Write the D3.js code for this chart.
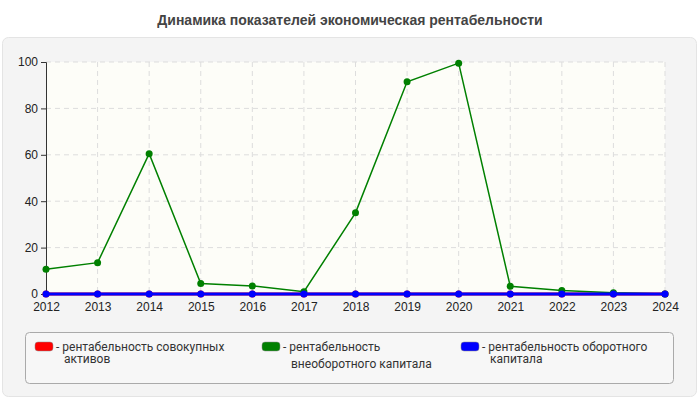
<!DOCTYPE html><html><head><meta charset="utf-8"><script src="https://cdn.jsdelivr.net/npm/d3@7"></script>
<style>body{margin:0;background:#fff;font-family:Arial,"Liberation Sans",sans-serif}</style></head><body><svg id="c" width="700" height="400"></svg>
<script>
const years=["2012","2013","2014","2015","2016","2017","2018","2019","2020","2021","2022","2023","2024"];
const totalAssets=[0,0,0,0,0,0,0,0,0,0,0,0,0];
const nonCurrent=[10.7,13.5,60.5,4.5,3.5,1,35,91.5,99.5,3.3,1.5,0.5,0];
const current=[0,0,0,0,0,0,0,0,0,0,0,0,0];
const yTicks=[0,20,40,60,80,100];
const legendLabels=[["рентабельность совокупных","активов"],["рентабельность","внеоборотного капитала"],["рентабельность оборотного","капитала"]];
const colors=["#ff0000","#008000","#0000ff"];
const svg=d3.select("#c");
svg.append("text").attr("x",350).attr("y",25).attr("text-anchor","middle").attr("font-size",14).attr("font-weight","bold").attr("fill","#444").text("Динамика показателей экономическая рентабельности");
svg.append("rect").attr("x",2.5).attr("y",37.5).attr("width",694).attr("height",359).attr("rx",6).attr("fill","#f4f4f4").attr("stroke","#e4e4e4");
const x=d3.scalePoint().domain(years).range([46,665]);
const y=d3.scaleLinear().domain([0,100]).range([294,62]);
svg.append("rect").attr("x",46).attr("y",62).attr("width",619).attr("height",232).attr("fill","#fdfdf8");
const g=svg.append("g");
g.selectAll(".gy").data(yTicks.slice(1)).join("line").attr("x1",46).attr("x2",665).attr("y1",d=>y(d)).attr("y2",d=>y(d)).attr("stroke","#ddd").attr("stroke-dasharray","5,4");
g.selectAll(".gx").data(years.slice(1)).join("line").attr("x1",d=>x(d)).attr("x2",d=>x(d)).attr("y1",62).attr("y2",294).attr("stroke","#ddd").attr("stroke-dasharray","5,4");
const ya=svg.append("g").attr("transform","translate(46,0)").call(d3.axisLeft(y).tickValues(yTicks).tickSize(5));
const xa=svg.append("g").attr("transform","translate(0,294)").call(d3.axisBottom(x).tickSize(0).tickPadding(8));
[ya,xa].forEach(a=>{a.selectAll("text").attr("font-size",12).attr("fill","#222").attr("font-family","Arial,Liberation Sans");a.selectAll("line").attr("stroke","#333");a.select(".domain").attr("stroke","#333");});
xa.select(".domain").remove();
const line=d3.line().x((d,i)=>x(years[i])).y(d=>y(d));
[totalAssets,nonCurrent,current].forEach((s,k)=>{
 svg.append("path").attr("d",line(s)).attr("fill","none").attr("stroke",colors[k]).attr("stroke-width",k==1?1.5:3);
 svg.selectAll(null).data(s).join("circle").attr("cx",(d,i)=>x(years[i])).attr("cy",d=>y(d)).attr("r",3.5).attr("fill",colors[k]);
});
svg.append("rect").attr("x",25.5).attr("y",332.5).attr("width",648).attr("height",51).attr("rx",4).attr("fill","#f7f7f7").attr("stroke","#aaa");
const lx=[35,262,461];
legendLabels.forEach((l,k)=>{
 svg.append("rect").attr("x",lx[k]).attr("y",342).attr("width",18).attr("height",9).attr("rx",3).attr("fill",colors[k]).attr("stroke","#888").attr("stroke-width",0.5);
 const t=svg.append("text").attr("x",lx[k]+21).attr("y",351).attr("font-size",12).attr("fill","#333").attr("font-family","Roboto,Arial");
 t.append("tspan").text("- "+l[0]);
 t.append("tspan").attr("x",lx[k]+29).attr("dy",k==1?17:12).text(l[1]);
});
</script></body></html>
